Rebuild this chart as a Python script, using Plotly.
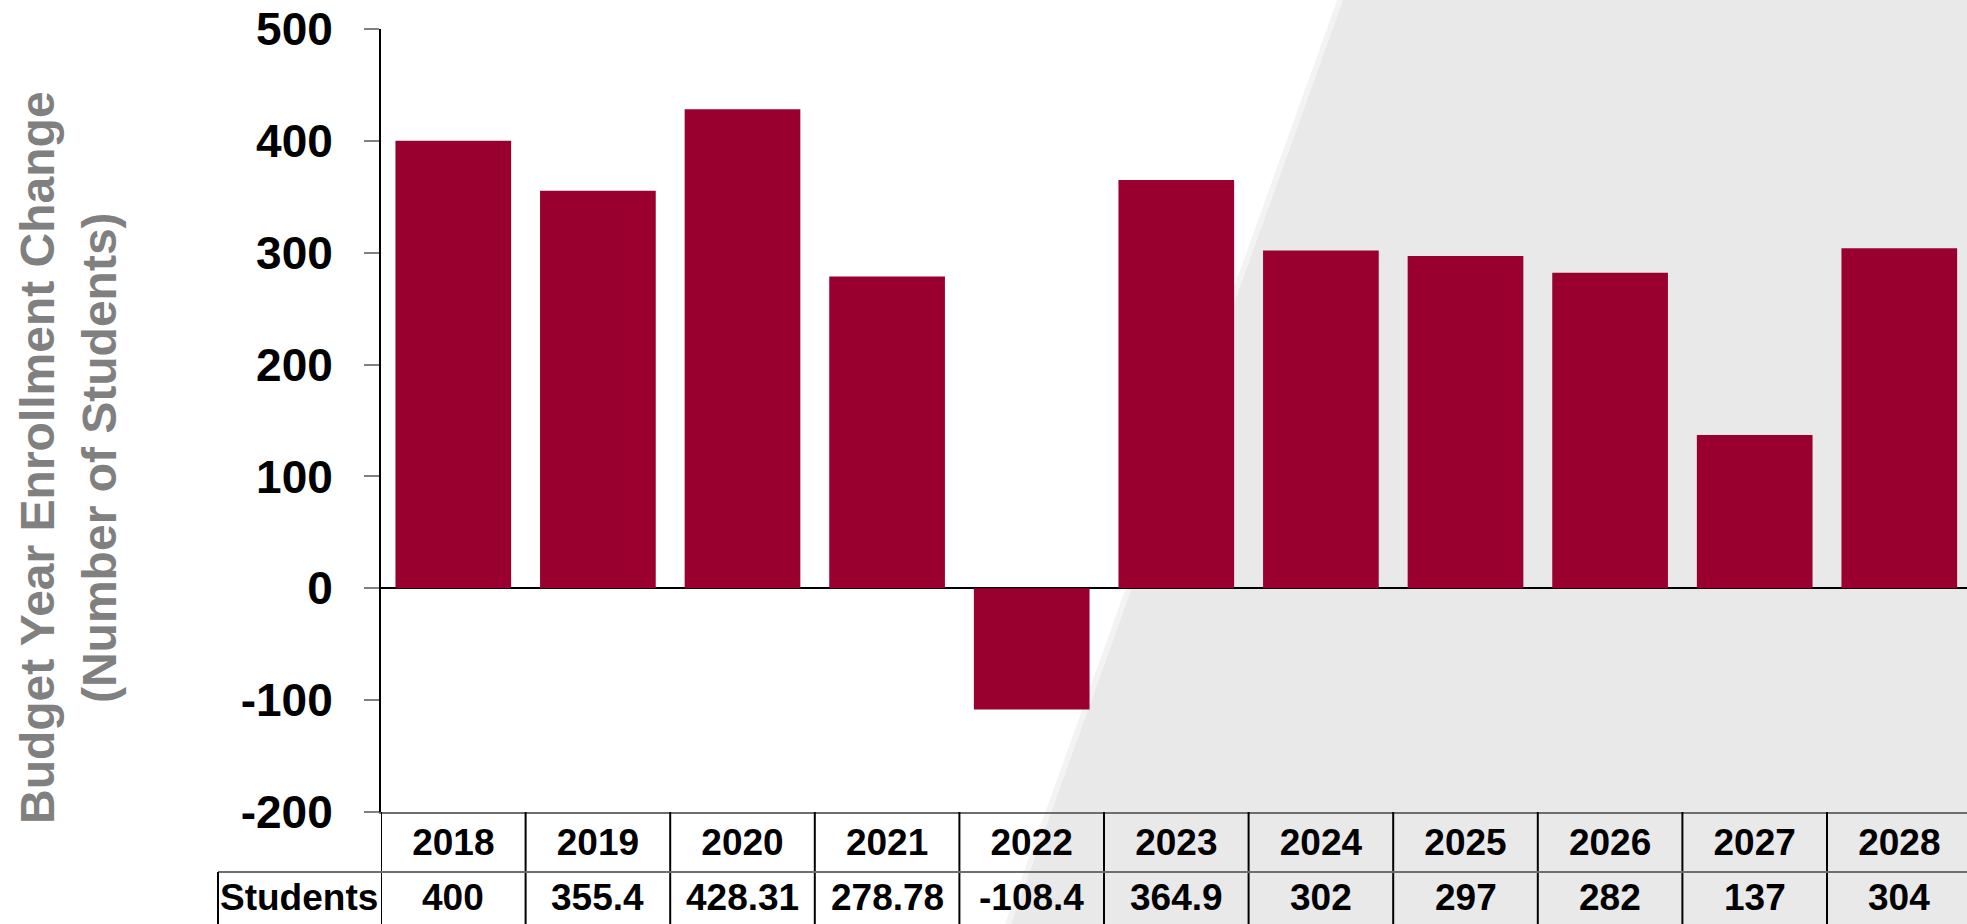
import plotly.graph_objects as go

# ---- data ----
years = ["2018", "2019", "2020", "2021", "2022", "2023", "2024", "2025", "2026", "2027", "2028"]
students = [400, 355.4, 428.31, 278.78, -108.4, 364.9, 302, 297, 282, 137, 304]
row_label = "Students"
y_ticks = [-200, -100, 0, 100, 200, 300, 400, 500]
y_tick_text = ["-200", "-100", "0", "100", "200", "300", "400", "500"]
y_title = "Budget Year Enrollment Change<br>(Number of Students)"

W, H = 1967, 924
L, R, T, B = 381, 0, 29, 112
pw, ph = W - L - R, H - T - B

def px_x(x):  # pixel -> paper x
    return (x - L) / pw

def px_y(y):  # pixel -> paper y
    return (H - B - y) / ph

BAR = "#99002F"
FONT = "Liberation Sans, Arial, sans-serif"

fig = go.Figure()
fig.add_trace(go.Bar(
    x=list(range(len(years))), y=students,
    marker=dict(color=BAR, line=dict(width=0)),
    hoverinfo="skip",
))

shapes = []
# gray slanted background (soft edge + main)
shapes.append(dict(type="path", xref="paper", yref="paper", layer="below",
    path=f"M {px_x(1339)} {px_y(-5)} L {px_x(1970)} {px_y(-5)} L {px_x(1970)} {px_y(930)} L {px_x(1003)} {px_y(930)} Z",
    fillcolor="#F3F3F3", line=dict(width=0)))
shapes.append(dict(type="path", xref="paper", yref="paper", layer="below",
    path=f"M {px_x(1345)} {px_y(-5)} L {px_x(1970)} {px_y(-5)} L {px_x(1970)} {px_y(930)} L {px_x(1009)} {px_y(930)} Z",
    fillcolor="#E9E9E9", line=dict(width=0)))

# table vertical lines at category boundaries
for i in range(len(years) + 1):
    shapes.append(dict(type="line", xref="x", yref="paper",
        x0=i - 0.5, x1=i - 0.5, y0=0, y1=px_y(930),
        line=dict(color="#000000", width=2)))
# row separator
shapes.append(dict(type="line", xref="paper", yref="paper",
    x0=px_x(218), x1=1.02, y0=px_y(872), y1=px_y(872),
    line=dict(color="#6E6E6E", width=2)))
# students row left border
shapes.append(dict(type="line", xref="paper", yref="paper",
    x0=px_x(218), x1=px_x(218), y0=px_y(872), y1=px_y(930),
    line=dict(color="#000000", width=2)))

annotations = []
for i, v in enumerate(students):
    annotations.append(dict(x=i, y=px_y(897), xref="x", yref="paper",
        text=f"{v:g}", showarrow=False, xanchor="center", yanchor="middle",
        font=dict(family=FONT, size=37, color="#000000", weight="bold")))
annotations.append(dict(x=px_x(299), y=px_y(897), xref="paper", yref="paper",
    text=row_label, showarrow=False, xanchor="center", yanchor="middle",
    font=dict(family=FONT, size=37, color="#000000", weight="bold")))
annotations.append(dict(x=px_x(69), y=px_y(458), xref="paper", yref="paper",
    text=y_title, showarrow=False, textangle=-90, xanchor="center", yanchor="middle",
    font=dict(family=FONT, size=48, color="#808080", weight="bold")))

fig.update_layout(
    width=W, height=H,
    margin=dict(l=L, r=R, t=T, b=B, pad=0),
    paper_bgcolor="#FFFFFF", plot_bgcolor="rgba(0,0,0,0)",
    showlegend=False, bargap=0.2,
    shapes=shapes, annotations=annotations,
    xaxis=dict(
        range=[-0.5, -0.5 + pw / 144.6],
        tickmode="array", tickvals=list(range(len(years))), ticktext=years,
        showgrid=False, zeroline=False,
        showline=True, linecolor="#6E6E6E", linewidth=2,
        ticks="", ticklabelstandoff=-3,
        tickfont=dict(family=FONT, size=37, color="#000000", weight="bold"),
        fixedrange=True,
    ),
    yaxis=dict(
        range=[-200, 500], tickmode="array", tickvals=y_ticks, ticktext=y_tick_text,
        showgrid=False,
        zeroline=True, zerolinecolor="#000000", zerolinewidth=2,
        showline=True, linecolor="#000000", linewidth=2,
        ticks="outside", ticklen=15, tickwidth=2, tickcolor="#808080",
        ticklabelstandoff=22,
        tickfont=dict(family=FONT, size=46, color="#000000", weight="bold"),
        fixedrange=True,
    ),
)

fig.write_html("out.html")
